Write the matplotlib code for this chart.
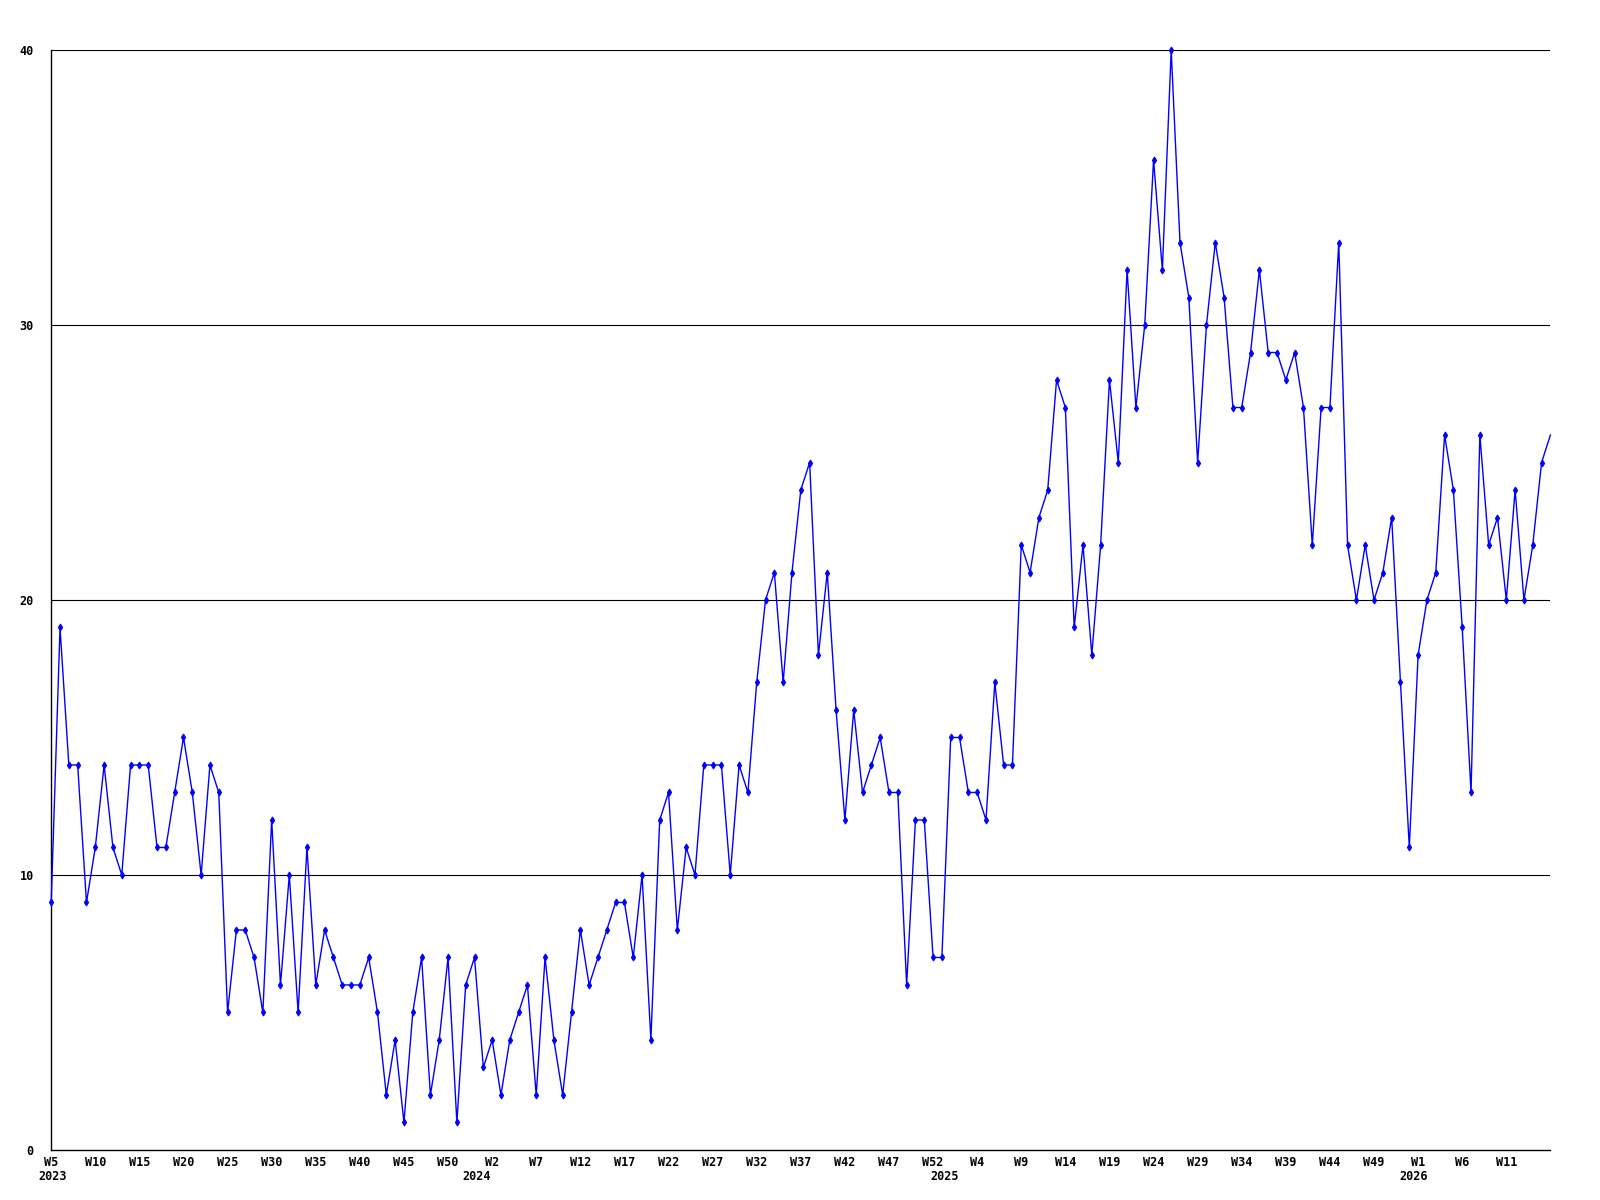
import matplotlib
matplotlib.use("Agg")
import matplotlib.pyplot as plt

# weekly counts, 2023 W5 .. 2026 W16
values = [
    9, 19, 14, 14, 9, 11, 14, 11, 10, 14,
    14, 14, 11, 11, 13, 15, 13, 10, 14, 13,
    5, 8, 8, 7, 5, 12, 6, 10, 5, 11,
    6, 8, 7, 6, 6, 6, 7, 5, 2, 4,
    1, 5, 7, 2, 4, 7, 1, 6, 7, 3,
    4, 2, 4, 5, 6, 2, 7, 4, 2, 5,
    8, 6, 7, 8, 9, 9, 7, 10, 4, 12,
    13, 8, 11, 10, 14, 14, 14, 10, 14, 13,
    17, 20, 21, 17, 21, 24, 25, 18, 21, 16,
    12, 16, 13, 14, 15, 13, 13, 6, 12, 12,
    7, 7, 15, 15, 13, 13, 12, 17, 14, 14,
    22, 21, 23, 24, 28, 27, 19, 22, 18, 22,
    28, 25, 32, 27, 30, 36, 32, 40, 33, 31,
    25, 30, 33, 31, 27, 27, 29, 32, 29, 29,
    28, 29, 27, 22, 27, 27, 33, 22, 20, 22,
    20, 21, 23, 17, 11, 18, 20, 21, 26, 24,
    19, 13, 26, 22, 23, 20, 24, 20, 22, 25,
    26,
]

week_labels = [
    "W5", "W10", "W15", "W20", "W25", "W30", "W35", "W40", "W45", "W50",
    "W2", "W7", "W12", "W17", "W22", "W27", "W32", "W37", "W42", "W47",
    "W52", "W4", "W9", "W14", "W19", "W24", "W29", "W34", "W39", "W44",
    "W49", "W1", "W6", "W11",
]
years = ["2023", "2024", "2025", "2026"]
year_pos = [0.2, 48.2, 101.3, 154.5]  # where the year label sits under the axis

x = list(range(len(values)))

fig = plt.figure(figsize=(16, 12), dpi=100)
ax = fig.add_axes([0.032, 0.0417, 0.937, 0.9166])

font = dict(family="DejaVu Sans Mono", weight="bold", size=8.5)

for g in [10, 20, 30, 40]:
    ax.axhline(g, color="black", lw=0.8, zorder=1)

# last point sits on the right edge, no marker there in the original
ax.plot(x, values, color="#0000ff", lw=1.0, marker="d", markersize=3.5,
        markeredgewidth=0.8, zorder=3, clip_on=False,
        markevery=list(range(len(values) - 1)))

ax.set_xlim(0, len(values) - 1)
ax.set_ylim(0, 40)

ax.set_yticks([0, 10, 20, 30, 40])
ax.set_yticklabels(["0", "10", "20", "30", "40"], fontdict=font)
ax.set_xticks(range(0, 5 * len(week_labels), 5))
ax.set_xticklabels(week_labels, fontdict=font)
ax.tick_params(axis="y", length=0, pad=12.6)
ax.tick_params(axis="x", length=0, pad=4.6)

for yr, p in zip(years, year_pos):
    ax.annotate(yr, xy=(p, 0), xycoords=("data", "axes fraction"),
                xytext=(0, -19.4), textcoords="offset points",
                ha="center", va="center", **font)

for side in ["top", "right"]:
    ax.spines[side].set_visible(False)
for side in ["left", "bottom"]:
    ax.spines[side].set_color("black")
    ax.spines[side].set_linewidth(1.0)

fig.savefig("out.png", dpi=100)
